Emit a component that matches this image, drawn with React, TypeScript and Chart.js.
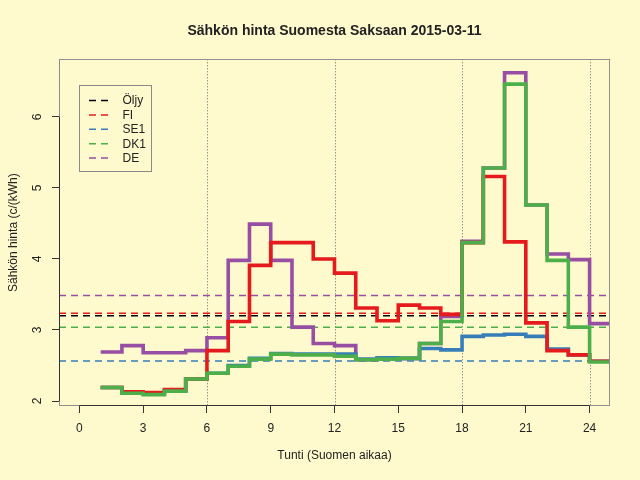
import React, { useEffect, useRef } from 'react';
import { Chart, registerables } from 'chart.js';

Chart.register(...registerables);

const BG = '#FFFACD';
const FONT = '"Liberation Sans", Arial, Helvetica, sans-serif';

// hour of day (Finnish time), one step per hour
const hours = [1, 2, 3, 4, 5, 6, 7, 8, 9, 10, 11, 12, 13, 14, 15, 16, 17, 18, 19, 20, 21, 22, 23, 24];

// hourly prices, c/kWh
const fiPrice = [2.19, 2.13, 2.12, 2.16, 2.31, 2.71, 3.12, 3.91, 4.23, 4.23, 4.0, 3.8, 3.31, 3.13, 3.35, 3.31, 3.22, 4.23, 5.16, 4.24, 3.1, 2.71, 2.65, 2.56];
const se1Price = [2.19, 2.11, 2.1, 2.14, 2.31, 2.39, 2.5, 2.6, 2.67, 2.66, 2.66, 2.66, 2.59, 2.61, 2.6, 2.74, 2.72, 2.91, 2.93, 2.94, 2.91, 2.73, 2.65, 2.56];
const dk1Price = [2.19, 2.11, 2.09, 2.14, 2.31, 2.39, 2.49, 2.59, 2.66, 2.65, 2.65, 2.63, 2.58, 2.59, 2.6, 2.81, 3.12, 4.23, 5.28, 6.46, 4.76, 3.98, 3.04, 2.55];
const dePrice = [2.69, 2.78, 2.68, 2.68, 2.71, 2.89, 3.98, 4.49, 3.98, 3.04, 2.81, 2.78, 2.58, 2.59, 2.6, 2.81, 3.19, 4.25, 5.28, 6.62, 4.76, 4.07, 3.99, 3.09];

// daily reference levels (dashed lines + legend)
const refLabels = ['Öljy', 'FI', 'SE1', 'DK1', 'DE'];
const refColors = ['#000000', '#E41A1C', '#377EB8', '#4DAF4A', '#984EA3'];
const refLevels = [3.2, 3.235, 2.565, 3.04, 3.485];

const markerHours = [6, 12, 18, 24];

const X_MIN = -0.96;
const X_MAX = 24.96;

const steps = (vals: number[]) => {
  const pts = hours.map((h, i) => ({ x: h, y: vals[i] }));
  pts.push({ x: hours[hours.length - 1] + 1, y: vals[vals.length - 1] });
  return pts;
};

const stepLine = (label: string, vals: number[], color: string, order: number) => ({
  label,
  data: steps(vals),
  borderColor: color,
  borderWidth: 3.6,
  stepped: 'before' as const,
  pointRadius: 0,
  fill: false,
  clip: 0,
  order,
});

const decorPlugin = {
  id: 'decor',
  beforeDraw(chart: any) {
    const { ctx, width, height } = chart;
    ctx.save();
    ctx.fillStyle = BG;
    ctx.fillRect(0, 0, width, height);
    ctx.restore();
  },
  beforeDatasetsDraw(chart: any) {
    const { ctx, chartArea, scales } = chart;
    ctx.save();
    ctx.strokeStyle = '#666';
    ctx.lineWidth = 1;
    ctx.setLineDash([1, 2]);
    markerHours.forEach((h) => {
      const px = Math.round(scales.x.getPixelForValue(h)) + 0.5;
      ctx.beginPath();
      ctx.moveTo(px, chartArea.top);
      ctx.lineTo(px, chartArea.bottom);
      ctx.stroke();
    });
    ctx.restore();
  },
  afterDraw(chart: any) {
    const { ctx, chartArea, scales } = chart;
    const { left, right, top, bottom } = chartArea;
    ctx.save();

    // frame
    ctx.strokeStyle = '#8f8f8f';
    ctx.lineWidth = 1;
    ctx.strokeRect(Math.round(left) + 0.5, Math.round(top) + 0.5, Math.round(right - left) - 1, Math.round(bottom - top) - 1);

    // axis lines between first and last tick
    const xt = scales.x.ticks;
    const yt = scales.y.ticks;
    ctx.strokeStyle = '#333';
    ctx.beginPath();
    ctx.moveTo(scales.x.getPixelForValue(xt[0].value), Math.round(bottom) - 0.5);
    ctx.lineTo(scales.x.getPixelForValue(xt[xt.length - 1].value), Math.round(bottom) - 0.5);
    ctx.moveTo(Math.round(left) + 0.5, scales.y.getPixelForValue(yt[0].value));
    ctx.lineTo(Math.round(left) + 0.5, scales.y.getPixelForValue(yt[yt.length - 1].value));
    ctx.stroke();

    // title
    ctx.fillStyle = '#222';
    ctx.font = `bold 14px ${FONT}`;
    ctx.textAlign = 'center';
    ctx.textBaseline = 'middle';
    ctx.fillText('Sähkön hinta Suomesta Saksaan 2015-03-11', (left + right) / 2, 31);

    // rotated y tick labels
    ctx.font = `12px ${FONT}`;
    yt.forEach((t: any) => {
      ctx.save();
      ctx.translate(38, scales.y.getPixelForValue(t.value));
      ctx.rotate(-Math.PI / 2);
      ctx.fillText(String(t.value), 0, 0);
      ctx.restore();
    });

    // legend
    ctx.strokeStyle = '#8a8a8a';
    ctx.lineWidth = 1;
    ctx.strokeRect(79.5, 85.5, 72, 86);
    ctx.textAlign = 'left';
    refLabels.forEach((lab, i) => {
      const y = 100.5 + i * 14.4;
      ctx.strokeStyle = refColors[i];
      ctx.lineWidth = 1.5;
      ctx.setLineDash([7, 5]);
      ctx.beginPath();
      ctx.moveTo(89, y);
      ctx.lineTo(109, y);
      ctx.stroke();
      ctx.setLineDash([]);
      ctx.fillStyle = '#222';
      ctx.fillText(lab, 122.5, y + 0.5);
    });
    ctx.restore();
  },
};

export default function App() {
  const canvasRef = useRef<HTMLCanvasElement>(null);

  useEffect(() => {
    if (!canvasRef.current) return;
    Chart.defaults.font.family = FONT;

    const refSets = refLabels.map((lab, i) => ({
      label: lab + ' ref',
      data: [
        { x: X_MIN, y: refLevels[i] },
        { x: X_MAX, y: refLevels[i] },
      ],
      borderColor: refColors[i],
      borderWidth: 1.5,
      borderDash: [7, 5],
      pointRadius: 0,
      fill: false,
      order: 10 + i,
    }));

    const chart = new Chart(canvasRef.current, {
      type: 'line',
      data: {
        datasets: [
          ...refSets,
          stepLine('DE', dePrice, '#984EA3', 4),
          stepLine('SE1', se1Price, '#377EB8', 3),
          stepLine('FI', fiPrice, '#E41A1C', 2),
          stepLine('DK1', dk1Price, '#4DAF4A', 1),
        ] as any,
      },
      options: {
        responsive: true,
        maintainAspectRatio: false,
        animation: false,
        events: [],
        layout: { padding: { top: 59.3, right: 30, left: 0, bottom: 0 } },
        plugins: {
          legend: { display: false },
          tooltip: { enabled: false },
          title: { display: false },
        },
        scales: {
          x: {
            type: 'linear',
            min: X_MIN,
            max: X_MAX,
            afterFit: (s: any) => {
              s.height = 74;
            },
            ticks: { stepSize: 3, includeBounds: false, color: '#222', font: { size: 12 }, padding: 8 },
            grid: { drawOnChartArea: false, drawTicks: true, tickLength: 7, tickColor: '#333' },
            border: { display: false },
            title: {
              display: true,
              text: 'Tunti (Suomen aikaa)',
              color: '#222',
              font: { size: 12 },
              padding: { top: 0, bottom: 16.8 },
            },
          },
          y: {
            type: 'linear',
            min: 1.93,
            max: 6.81,
            afterFit: (s: any) => {
              s.width = 59;
            },
            ticks: { stepSize: 1, includeBounds: false, display: false },
            grid: { drawOnChartArea: false, drawTicks: true, tickLength: 7, tickColor: '#333' },
            border: { display: false },
            title: {
              display: true,
              text: 'Sähkön hinta (c/(kWh)',
              color: '#222',
              font: { size: 12 },
              padding: { top: 6, bottom: 0 },
            },
          },
        },
      } as any,
      plugins: [decorPlugin],
    });

    return () => chart.destroy();
  }, []);

  return (
    <div style={{ position: 'fixed', left: 0, top: 0, width: 640, height: 480, background: BG }}>
      <canvas ref={canvasRef} />
    </div>
  );
}
